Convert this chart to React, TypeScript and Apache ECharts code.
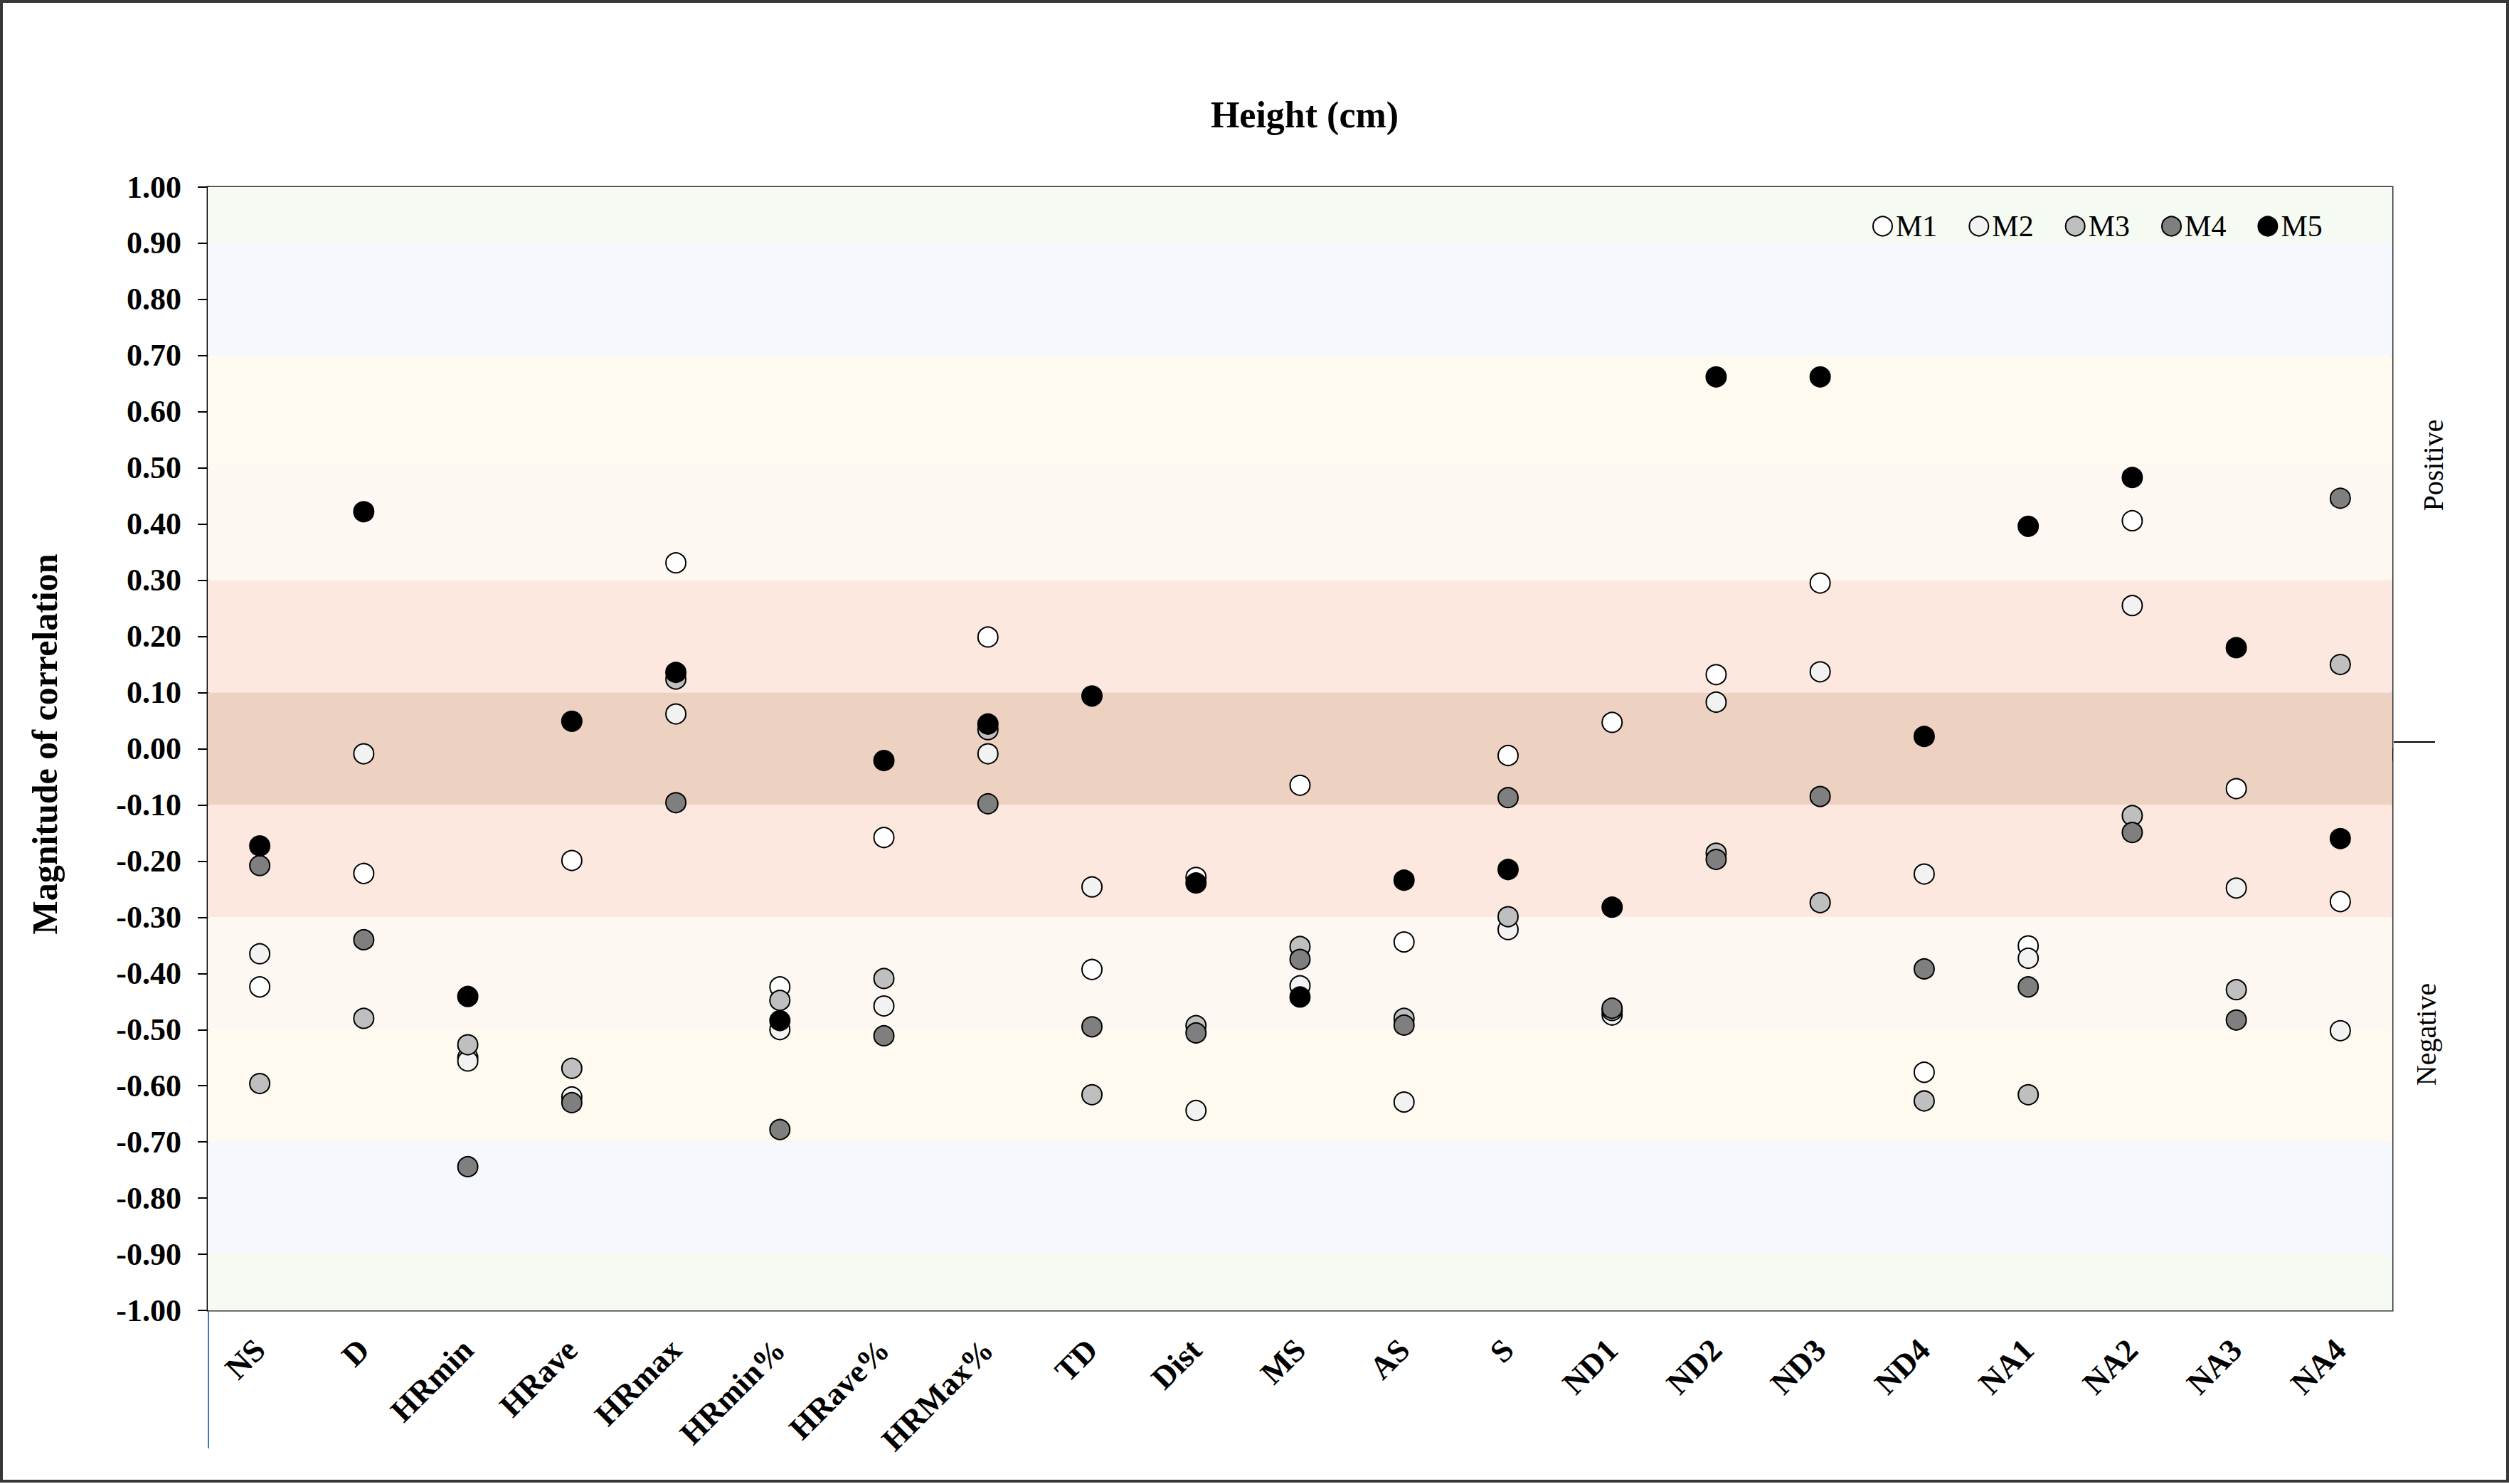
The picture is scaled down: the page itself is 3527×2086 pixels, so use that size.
import React, { useEffect, useRef } from "react";
import * as echarts from "echarts";

const categories = ["NS", "D", "HRmin", "HRave", "HRmax", "HRmin%", "HRave%", "HRMax%", "TD", "Dist", "MS", "AS", "S", "ND1", "ND2", "ND3", "ND4", "NA1", "NA2", "NA3", "NA4"];

const m1 = [-0.424, -0.222, -0.55, -0.199, 0.331, -0.424, -0.158, 0.199, -0.393, -0.229, -0.065, -0.344, -0.012, 0.047, 0.132, 0.295, -0.576, -0.351, 0.406, -0.071, -0.272];
const m2 = [-0.365, -0.009, -0.556, -0.62, 0.062, -0.5, -0.458, -0.009, -0.246, -0.644, -0.422, -0.629, -0.322, -0.474, 0.083, 0.137, -0.223, -0.373, 0.255, -0.248, -0.502];
const m3 = [-0.596, -0.48, -0.527, -0.569, 0.124, -0.448, -0.409, 0.034, -0.616, -0.493, -0.352, -0.48, -0.299, -0.466, -0.186, -0.274, -0.627, -0.616, -0.119, -0.429, 0.15];
const m4 = [-0.208, -0.34, -0.744, -0.63, -0.096, -0.678, -0.511, -0.098, -0.495, -0.506, -0.375, -0.492, -0.087, -0.462, -0.197, -0.085, -0.392, -0.424, -0.149, -0.483, 0.446];
const m5 = [-0.173, 0.422, -0.441, 0.049, 0.136, -0.484, -0.021, 0.044, 0.094, -0.239, -0.442, -0.234, -0.215, -0.282, 0.662, 0.662, 0.022, 0.396, 0.483, 0.18, -0.16];

const seriesNames = ["M1", "M2", "M3", "M4", "M5"];
const seriesValues = [m1, m2, m3, m4, m5];
const seriesFills = ["#ffffff", "#f2f2f2", "#bfbfbf", "#7f7f7f", "#000000"];

const bandEdges = [1.0, 0.9, 0.7, 0.5, 0.3, 0.1, -0.1, -0.3, -0.5, -0.7, -0.9, -1.0];
const bandColors = ["#f5faf2", "#f5f8fd", "#fffaf0", "#fef8f3", "#fce8de", "#edd1c1", "#fce8de", "#fef8f3", "#fffaf0", "#f5f8fd", "#f5faf2"];

const FONT = "'Liberation Serif', 'Times New Roman', serif";

export default function App() {
  const ref = useRef<HTMLDivElement>(null);

  useEffect(() => {
    if (!ref.current) return;
    const chart = echarts.init(ref.current, null, { renderer: "svg" });

    const bands = bandColors.map((c, i) => [
      { yAxis: bandEdges[i + 1], itemStyle: { color: c } },
      { yAxis: bandEdges[i] },
    ]);

    const series: any[] = seriesNames.map((name, si) => ({
      name,
      type: "scatter",
      z: 3 + si,
      symbol: "circle",
      symbolSize: 28,
      data: seriesValues[si],
      itemStyle: { color: seriesFills[si], borderColor: "#000", borderWidth: 2, opacity: 1 },
      ...(si === 0
        ? { markArea: { silent: true, z: 1, data: bands } }
        : {}),
    }));

    const option: any = {
      animation: false,
      backgroundColor: "#ffffff",
      textStyle: { fontFamily: FONT },
      title: {
        text: "Height (cm)",
        left: 1829,
        top: 130,
        textAlign: "center",
        textStyle: { fontFamily: FONT, fontWeight: "bold", fontSize: 52, color: "#000" },
      },
      legend: {
        data: seriesNames,
        left: 2627,
        top: 292,
        icon: "circle",
        itemWidth: 27,
        itemHeight: 27,
        itemGap: 44,
        selectedMode: false,
        textStyle: { fontFamily: FONT, fontSize: 42, color: "#000" },
      },
      grid: {
        left: 292,
        right: 164,
        top: 263,
        bottom: 244,
        show: true,
        borderColor: "#333",
        borderWidth: 3,
        backgroundColor: "transparent",
      },
      xAxis: {
        type: "category",
        data: categories,
        boundaryGap: true,
        axisLine: { show: true, lineStyle: { color: "#333", width: 3 } },
        axisTick: { show: true, interval: 0, length: 17, lineStyle: { color: "#000", width: 2 } },
        axisLabel: {
          interval: 0,
          rotate: 45,
          margin: 48,
          fontFamily: FONT,
          fontWeight: "bold",
          fontSize: 45,
          color: "#000",
        },
        splitLine: { show: false },
      },
      yAxis: {
        type: "value",
        min: -1,
        max: 1,
        interval: 0.1,
        axisLine: { show: true, lineStyle: { color: "#000", width: 3 } },
        axisTick: { show: true, length: 14, lineStyle: { color: "#000", width: 2 } },
        axisLabel: {
          margin: 37,
          fontFamily: FONT,
          fontWeight: "bold",
          fontSize: 44,
          color: "#000",
          formatter: (v: number) => v.toFixed(2),
        },
        splitLine: { show: false },
      },
      graphic: [
        {
          type: "rect",
          shape: { x: 2, y: 2, width: 3523, height: 2080 },
          style: { fill: "none", stroke: "#383838", lineWidth: 4 },
          z: 100,
        },
        {
          type: "text",
          x: 63,
          y: 1046,
          rotation: Math.PI / 2,
          style: {
            text: "Magnitude of correlation",
            font: `bold 50px ${FONT}`,
            fill: "#000",
            align: "center",
            verticalAlign: "middle",
          },
        },
        {
          type: "text",
          x: 3420,
          y: 654,
          rotation: Math.PI / 2,
          style: {
            text: "Positive",
            font: `40px ${FONT}`,
            fill: "#000",
            align: "center",
            verticalAlign: "middle",
          },
        },
        {
          type: "text",
          x: 3410,
          y: 1454,
          rotation: Math.PI / 2,
          style: {
            text: "Negative",
            font: `40px ${FONT}`,
            fill: "#000",
            align: "center",
            verticalAlign: "middle",
          },
        },
        {
          type: "line",
          shape: { x1: 3365, y1: 1043, x2: 3423, y2: 1043 },
          style: { stroke: "#000", lineWidth: 2 },
        },
        {
          type: "line",
          shape: { x1: 293, y1: 1844, x2: 293, y2: 2036 },
          style: { stroke: "#4472c4", lineWidth: 2 },
        },
      ],
      series,
    };

    chart.setOption(option);
    return () => chart.dispose();
  }, []);

  return (
    <div
      ref={ref}
      style={{ position: "absolute", left: 0, top: 0, width: 3527, height: 2086, background: "#fff" }}
    />
  );
}
